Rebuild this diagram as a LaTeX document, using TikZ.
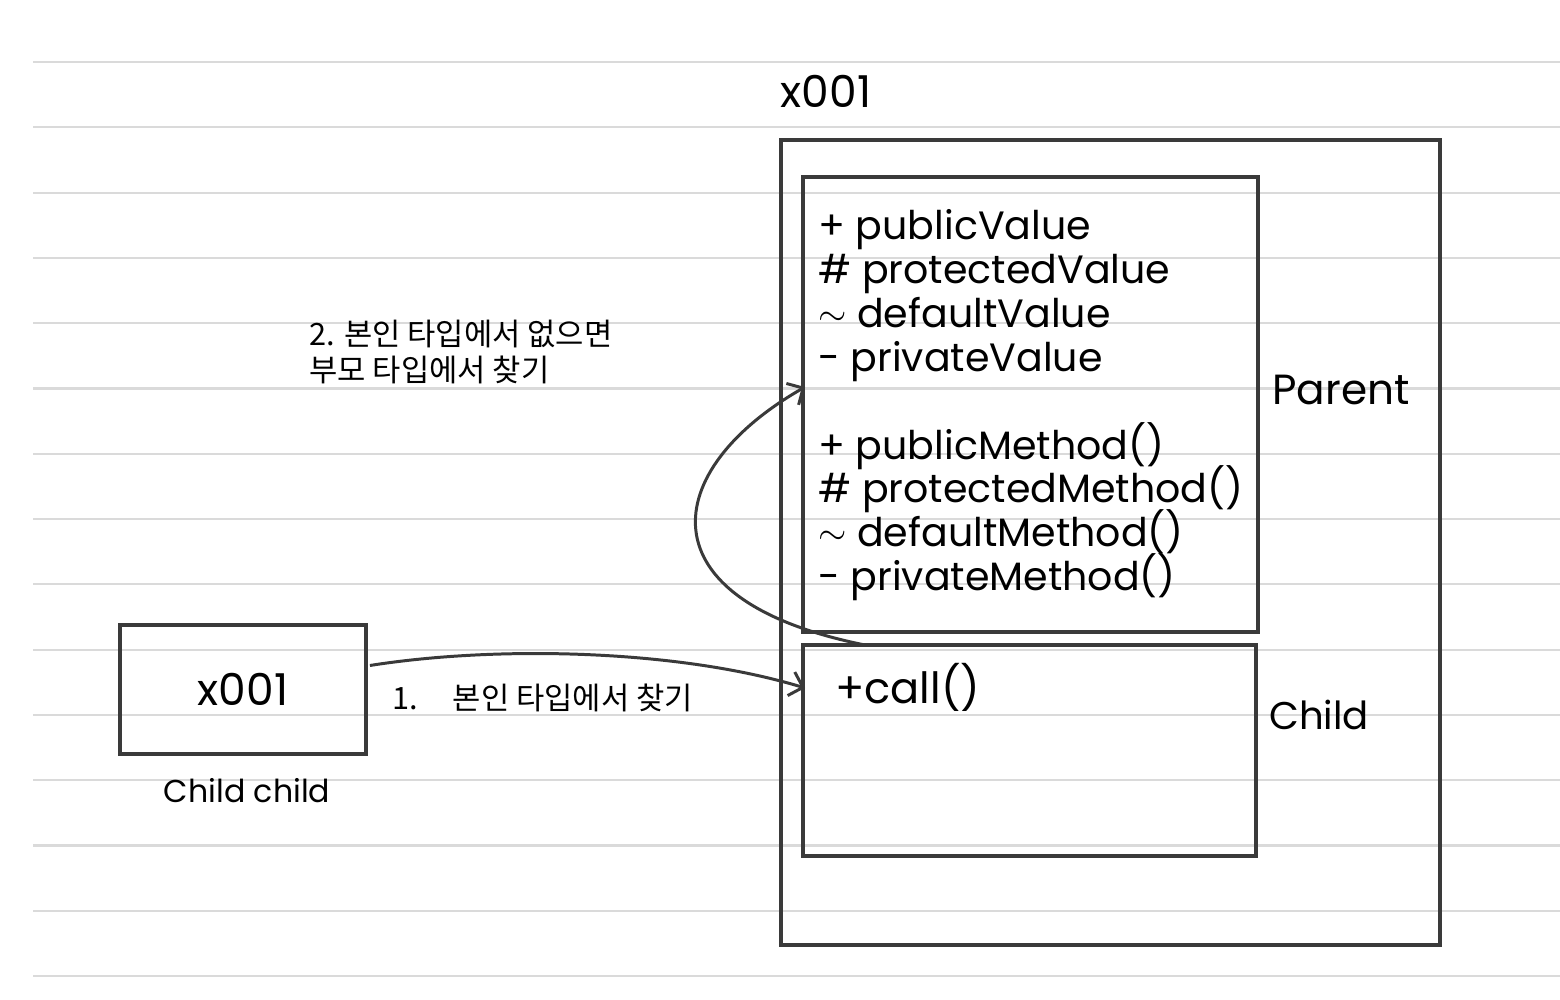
\documentclass[tikz,border=0pt]{standalone}
\usepackage{fontspec}
\setmainfont{Poppins}
\newfontfamily\krfont{Noto Sans CJK KR}
\usepackage{xcolor}
\usetikzlibrary{positioning,arrows.meta}
\definecolor{inkgray}{HTML}{3A3A3A}
\definecolor{rulegray}{HTML}{DADADA}
\newcommand{\pkgmark}{\raisebox{0.1ex}{$\sim$}}
\newcommand{\memberfont}{\fontsize{22.5}{25}\selectfont\lineskiplimit=-20pt\relax}

\begin{document}
\begin{tikzpicture}[
  x=0.02cm, y=-0.02cm,
  box/.style={draw=inkgray, line width=2pt, inner sep=0pt, outer sep=0pt,
              anchor=north west},
  rule/.style={draw=rulegray, line width=1.2pt},
  arr/.style={-{Straight Barb[length=7pt,width=14pt]}, draw=inkgray,
              line width=1.7pt},
  lbl/.style={font=\fontsize{21}{25}\selectfont, inner sep=0pt},
  note/.style={font=\krfont\fontsize{17.5}{20.5}\selectfont, align=left,
               inner sep=0pt}
]
  \useasboundingbox (0,0) rectangle (1560,1000);

  % ruled paper
  \foreach \i in {0,...,14}
    \draw[rule] (33,62+65.29*\i) -- (1560,62+65.29*\i);

  % heap instance
  \node[box, minimum width=13.18cm, minimum height=16.1cm] (heap) at (781,140) {};
  \node[box, minimum width=9.1cm, minimum height=9.1cm] (parent) at (803,177) {};
  \node[box, minimum width=9.06cm, minimum height=4.22cm] (child) at (803,645) {};
  \node[lbl, font=\fontsize{25}{28}\selectfont] (addr) at (826,91) {x001};

  \node[lbl, anchor=north west, align=left, font=\memberfont]
    (members) at (818,209)
    {+ publicValue\\
     \# protectedValue\\
     \pkgmark{} defaultValue\\
     - privateValue\\[25pt]
     + publicMethod()\\
     \# protectedMethod()\\
     \pkgmark{} defaultMethod()\\
     - privateMethod()};
  \node[lbl, anchor=west, font=\fontsize{24.5}{28}\selectfont] (callm) at (835,687) {+call()};
  \node[lbl, anchor=west, font=\fontsize{24}{28}\selectfont] (parentlbl) at (1272,390) {Parent};
  \node[lbl, anchor=west, font=\fontsize{22}{26}\selectfont] (childlbl) at (1269,715) {Child};

  % reference variable
  \node[box, minimum width=4.92cm, minimum height=2.58cm] (ref) at (120,625) {};
  \node[lbl, font=\fontsize{25}{28}\selectfont] (refval) at (ref.center) {x001};
  \node[lbl, font=\fontsize{18}{22}\selectfont] (refname) at (247,791) {Child child};

  % lookup order
  \coordinate (callpt) at (805,688);
  \coordinate (uppt) at (805,387);
  \draw[arr] ([shift={(4,-24)}]ref.east) .. controls (500,645) and (680,650) .. (callpt);
  \draw[arr] ([shift={(62,0)}]child.north west) .. controls (640,600) and (660,470) .. (uppt);

  \node[note, anchor=west] (step1) at (392,698) {1.\hspace{0.7cm}본인 타입에서 찾기};
  \node[note, anchor=north west] (step2) at (309,320)
    {2. 본인 타입에서 없으면\\부모 타입에서 찾기};
\end{tikzpicture}
\end{document}
